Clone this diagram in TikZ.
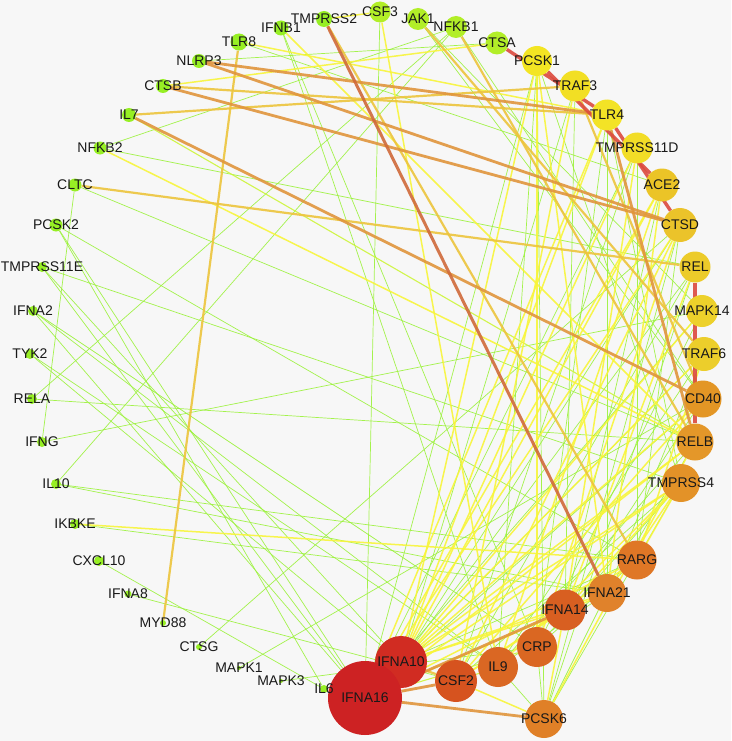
\documentclass[tikz,border=0pt]{standalone}
\usepackage{fontspec}
\setmainfont{Liberation Sans}
\pgfdeclarelayer{bgl}
\pgfdeclarelayer{edges}
\pgfdeclarelayer{labels}
\pgfsetlayers{bgl,edges,main,labels}
\definecolor{bgc}{HTML}{F7F7F7}
\definecolor{ngreen}{HTML}{97EF24}
\definecolor{nlime}{HTML}{B2EE28}
\definecolor{cG}{HTML}{9BF23A}
\definecolor{cYG}{HTML}{CDF53A}
\definecolor{cY}{HTML}{F7F53A}
\definecolor{cYO}{HTML}{EDC43C}
\definecolor{cO}{HTML}{E0953C}
\definecolor{cRO}{HTML}{D06A3A}
\definecolor{cR}{HTML}{DC4A3E}
\definecolor{kPCSK1}{HTML}{F3E523}
\definecolor{kTRAF3}{HTML}{F2DF24}
\definecolor{kTLR4}{HTML}{F3E326}
\definecolor{kTMPRSS11D}{HTML}{F2DD27}
\definecolor{kACE2}{HTML}{EBC427}
\definecolor{kCTSD}{HTML}{EBC32A}
\definecolor{kREL}{HTML}{ECCB2A}
\definecolor{kMAPK14}{HTML}{EDD12B}
\definecolor{kTRAF6}{HTML}{ECCE2B}
\definecolor{kCD40}{HTML}{E39625}
\definecolor{kRELB}{HTML}{E49729}
\definecolor{kTMPRSS4}{HTML}{E39228}
\definecolor{kRARG}{HTML}{DF7726}
\definecolor{kIFNA21}{HTML}{E0822B}
\definecolor{kIFNA14}{HTML}{D85F21}
\definecolor{kCRP}{HTML}{DA6722}
\definecolor{kIL9}{HTML}{DA6723}
\definecolor{kCSF2}{HTML}{D6531F}
\definecolor{kPCSK6}{HTML}{E08027}
\definecolor{kIFNA10}{HTML}{D12C22}
\definecolor{kIFNA16}{HTML}{CD2223}
\newcommand\mk[4]{\node[nd, minimum size=#3pt, fill=#4] (#1) at (#2) {};
  \begin{pgfonlayer}{labels}\node[lbl] (L#1) at (#1) {#1};\end{pgfonlayer}}
\newcommand\edg[3]{\draw[#1] (#2) -- (#3);}
\begin{document}
\begin{tikzpicture}[x=1pt,y=-1pt,
  nd/.style={circle, inner sep=0pt, draw=none},
  lbl/.style={font=\fontsize{14}{16}\selectfont, text=black!90, inner sep=0pt},
  eG/.style={draw=cG, line width=0.7pt, opacity=0.9},
  eYG/.style={draw=cYG, line width=1.1pt, opacity=0.9},
  eY/.style={draw=cY, line width=1.5pt, opacity=0.9},
  eYO/.style={draw=cYO, line width=2.2pt, opacity=0.9},
  eO/.style={draw=cO, line width=2.8pt, opacity=0.9},
  eRO/.style={draw=cRO, line width=3pt, opacity=0.9},
  eR/.style={draw=cR, line width=3.4pt, opacity=0.9}]
\begin{pgfonlayer}{bgl}
\fill[bgc] (0,0) rectangle (731,741);
\end{pgfonlayer}
\useasboundingbox (0,0) rectangle (731,741);
% small green nodes
\mk{TLR8}{239,42}{17}{ngreen}
\mk{NLRP3}{199,61}{14}{ngreen}
\mk{IFNB1}{281,28}{15}{ngreen}
\mk{TMPRSS2}{324,19}{16}{ngreen}
\mk{CSF3}{380,12}{21}{nlime}
\mk{JAK1}{418,19}{22}{nlime}
\mk{NFKB1}{456,27}{22}{nlime}
\mk{CTSA}{497,43}{23}{nlime}
\mk{CTSB}{163,86}{14}{ngreen}
\mk{IL7}{129,115}{14}{ngreen}
\mk{NFKB2}{100,148}{13}{ngreen}
\mk{CLTC}{75,185}{13}{ngreen}
\mk{PCSK2}{56,225}{13}{ngreen}
\mk{TMPRSS11E}{42,267}{10}{ngreen}
\mk{IFNA2}{33,311}{10}{ngreen}
\mk{TYK2}{30,354}{10}{ngreen}
\mk{RELA}{32,399}{10}{ngreen}
\mk{IFNG}{42,442}{10}{ngreen}
\mk{IL10}{56,484}{10}{ngreen}
\mk{IKBKE}{75,524}{10}{ngreen}
\mk{CXCL10}{99,561}{10}{ngreen}
\mk{IFNA8}{128,594}{7}{ngreen}
\mk{MYD88}{163,623}{6}{ngreen}
\mk{CTSG}{199,647}{6}{ngreen}
\mk{MAPK1}{239,668}{4}{ngreen}
\mk{MAPK3}{281,681}{4}{ngreen}
\mk{IL6}{324,689}{8}{ngreen}
% big nodes
\mk{PCSK1}{537,61}{30}{kPCSK1}
\mk{TRAF3}{575,86}{31}{kTRAF3}
\mk{TLR4}{607,115}{31}{kTLR4}
\mk{TMPRSS11D}{637,148}{31}{kTMPRSS11D}
\mk{ACE2}{662,185}{33}{kACE2}
\mk{CTSD}{680,225}{34}{kCTSD}
\mk{REL}{695,267}{31}{kREL}
\mk{MAPK14}{702,311}{32}{kMAPK14}
\mk{TRAF6}{704,354}{34}{kTRAF6}
\mk{CD40}{703,399}{37}{kCD40}
\mk{RELB}{695,442}{37}{kRELB}
\mk{TMPRSS4}{681,483}{38}{kTMPRSS4}
\mk{RARG}{637,560}{39}{kRARG}
\mk{IFNA21}{607,593}{38}{kIFNA21}
\mk{IFNA14}{565,610}{41}{kIFNA14}
\mk{CRP}{537,647}{40}{kCRP}
\mk{IL9}{498,667}{40}{kIL9}
\mk{CSF2}{456,681}{42}{kCSF2}
\mk{PCSK6}{544,719}{38}{kPCSK6}
\mk{IFNA10}{401,662}{52}{kIFNA10}
\mk{IFNA16}{365,698}{74}{kIFNA16}
\begin{pgfonlayer}{edges}
% green edges
\edg{eG}{NLRP3}{CTSA}
\edg{eG}{NFKB2}{NFKB1}
\edg{eG}{NFKB2}{REL}
\edg{eG}{TLR8}{ACE2}
\edg{eG}{IFNB1}{CRP}
\edg{eG}{IFNB1}{IL9}
\edg{eG}{CSF3}{IFNA16}
\edg{eG}{RELA}{RELB}
\edg{eG}{RELA}{NFKB1}
\edg{eG}{IFNG}{MAPK14}
\edg{eG}{CLTC}{IFNG}
\edg{eG}{PCSK2}{RARG}
\edg{eG}{PCSK2}{IL6}
\edg{eG}{PCSK2}{IFNA16}
\edg{eG}{TMPRSS11E}{TMPRSS4}
\edg{eG}{TMPRSS11E}{IFNA10}
\edg{eG}{TMPRSS11E}{IFNA16}
\edg{eG}{IFNA2}{CRP}
\edg{eG}{IFNA2}{IL9}
\edg{eG}{IFNA2}{IFNA16}
\edg{eG}{TYK2}{IL9}
\edg{eG}{TYK2}{IFNA10}
\edg{eG}{IL10}{RARG}
\edg{eG}{IL10}{IFNA21}
\edg{eG}{IL10}{NFKB1}
\edg{eG}{IKBKE}{IFNA21}
\edg{eG}{CXCL10}{IL6}
\edg{eG}{IFNA8}{CSF2}
\edg{eG}{CTSG}{CTSD}
\edg{eG}{MAPK1}{CD40}
\edg{eG}{MAPK3}{CRP}
\edg{eG}{IL6}{IFNA16}
\edg{eG}{CLTC}{RELB}
\edg{eG}{JAK1}{CD40}
\edg{eG}{JAK1}{MAPK14}
\edg{eG}{NFKB1}{CD40}
\edg{eG}{PCSK1}{PCSK6}
\edg{eG}{TMPRSS11D}{RARG}
\edg{eG}{IFNA10}{TRAF3}
\edg{eG}{IFNA10}{CTSD}
\edg{eG}{IFNA10}{REL}
\edg{eG}{IFNA10}{TRAF6}
\edg{eG}{IFNA10}{RARG}
\edg{eG}{IFNA16}{PCSK1}
\edg{eG}{IFNA16}{TMPRSS11D}
\edg{eG}{IFNA16}{MAPK14}
\edg{eG}{IFNA16}{CD40}
\edg{eG}{CSF2}{TMPRSS11D}
\edg{eG}{CSF2}{REL}
\edg{eG}{CSF2}{TMPRSS4}
\edg{eG}{IL9}{PCSK1}
\edg{eG}{IL9}{TRAF6}
\edg{eG}{IL9}{RELB}
\edg{eG}{IL9}{IFNA21}
\edg{eG}{IL9}{PCSK6}
\edg{eG}{CRP}{TLR4}
\edg{eG}{CRP}{MAPK14}
\edg{eG}{CRP}{TMPRSS4}
\edg{eG}{CRP}{PCSK6}
\edg{eG}{CRP}{RARG}
\edg{eG}{IFNA14}{TRAF3}
\edg{eG}{IFNA14}{ACE2}
\edg{eG}{IFNA14}{CD40}
\edg{eG}{IFNA21}{TLR4}
\edg{eG}{IFNA21}{TRAF6}
\edg{eG}{IFNA21}{PCSK6}
\edg{eG}{IFNA21}{RELB}
\edg{eG}{RARG}{CTSD}
\edg{eG}{PCSK6}{TMPRSS4}
\edg{eG}{PCSK6}{CTSD}
\edg{eG}{PCSK6}{REL}
\edg{eG}{TMPRSS4}{PCSK1}
\edg{eG}{TMPRSS4}{TLR4}
% yellow-green
\edg{eYG}{IL7}{RELB}
\edg{eYG}{IFNA16}{CRP}
\edg{eYG}{CSF2}{IL9}
\edg{eYG}{IFNA16}{IFNA10}
% yellow
\edg{eY}{CTSB}{CTSA}
\edg{eY}{TLR8}{TLR4}
\edg{eY}{NFKB2}{RELB}
\edg{eY}{IKBKE}{RARG}
\edg{eY}{CSF3}{TMPRSS2}
\edg{eY}{CSF3}{IL9}
\edg{eY}{IFNB1}{RELB}
\edg{eY}{IFNA10}{PCSK1}
\edg{eY}{IFNA10}{TLR4}
\edg{eY}{IFNA10}{TMPRSS11D}
\edg{eY}{IFNA10}{ACE2}
\edg{eY}{IFNA10}{MAPK14}
\edg{eY}{IFNA10}{CD40}
\edg{eY}{IFNA10}{RELB}
\edg{eY}{IFNA10}{TMPRSS4}
\edg{eY}{IFNA10}{IFNA21}
\edg{eY}{IFNA10}{IFNA14}
\edg{eY}{IFNA16}{TLR4}
\edg{eY}{IFNA16}{ACE2}
\edg{eY}{IFNA16}{CTSD}
\edg{eY}{IFNA16}{TRAF6}
\edg{eY}{IFNA16}{RELB}
\edg{eY}{IFNA16}{TMPRSS4}
\edg{eY}{IFNA16}{RARG}
\edg{eY}{IFNA16}{IFNA21}
\edg{eY}{CSF2}{TRAF3}
\edg{eY}{CSF2}{CTSD}
\edg{eY}{CSF2}{CD40}
\edg{eY}{CSF2}{RARG}
\edg{eY}{CSF2}{PCSK6}
\edg{eY}{CSF2}{IFNA14}
\edg{eY}{IL9}{ACE2}
\edg{eY}{IL9}{TMPRSS4}
\edg{eY}{CRP}{PCSK1}
\edg{eY}{CRP}{CTSD}
\edg{eY}{IFNA14}{TMPRSS11D}
\edg{eY}{IFNA14}{REL}
\edg{eY}{IFNA14}{TMPRSS4}
\edg{eY}{IFNA14}{PCSK6}
\edg{eY}{IFNA21}{PCSK1}
\edg{eY}{IFNA21}{ACE2}
\edg{eY}{IFNA21}{TMPRSS4}
\edg{eY}{RARG}{TRAF6}
\edg{eY}{RARG}{TMPRSS4}
\edg{eY}{PCSK6}{RELB}
% yellow-orange
\edg{eYO}{IL7}{TRAF3}
\edg{eYO}{CLTC}{REL}
\edg{eYO}{CTSB}{TLR4}
\edg{eYO}{TLR8}{MYD88}
\edg{eYO}{TMPRSS2}{RARG}
\edg{eYO}{JAK1}{TRAF6}
\edg{eYO}{NFKB1}{RELB}
\edg{eYO}{TRAF3}{CD40}
\edg{eYO}{IFNA10}{CSF2}
% orange
\edg{eO}{NLRP3}{TLR4}
\edg{eO}{NLRP3}{CTSD}
\edg{eO}{CTSB}{CTSD}
\edg{eO}{IL7}{CD40}
\edg{eO}{IFNA16}{PCSK6}
\edg{eO}{IFNA16}{IFNA14}
\edg{eO}{TLR4}{RELB}
\edg{eO}{IFNA16}{CSF2}
% red
\edg{eRO}{TMPRSS2}{IFNA21}
\edg{eR}{CTSA}{TLR4}
\edg{eR}{TLR4}{CTSD}
\edg{eR}{PCSK1}{ACE2}
\edg{eR}{REL}{RELB}
\end{pgfonlayer}
\end{tikzpicture}
\end{document}
